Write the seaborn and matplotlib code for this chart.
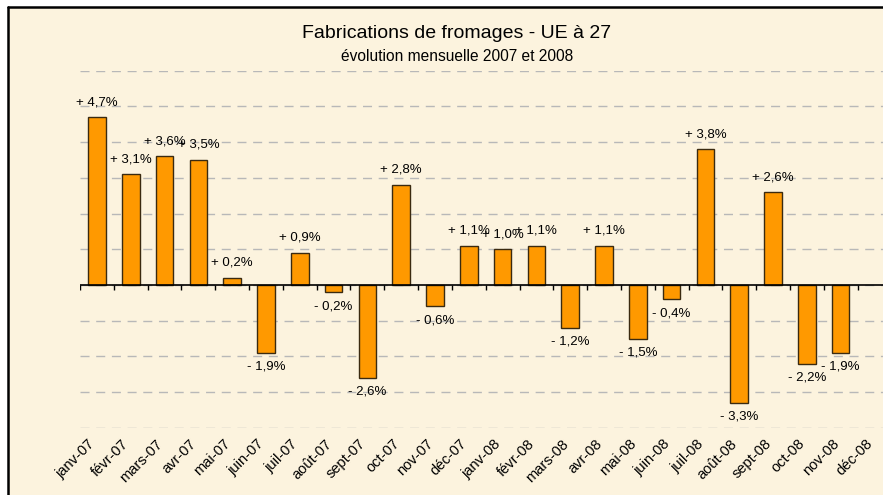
import numpy as np
import pandas as pd
import matplotlib
matplotlib.use("Agg")
import matplotlib.pyplot as plt
import matplotlib.transforms as mtransforms
from matplotlib.patches import Rectangle
from matplotlib.lines import Line2D
import seaborn as sns

months = ["janv-07", "févr-07", "mars-07", "avr-07", "mai-07", "juin-07",
          "juil-07", "août-07", "sept-07", "oct-07", "nov-07", "déc-07",
          "janv-08", "févr-08", "mars-08", "avr-08", "mai-08", "juin-08",
          "juil-08", "août-08", "sept-08", "oct-08", "nov-08", "déc-08"]
values = [4.7, 3.1, 3.6, 3.5, 0.2, -1.9, 0.9, -0.2, -2.6, 2.8, -0.6, 1.1,
          1.0, 1.1, -1.2, 1.1, -1.5, -0.4, 3.8, -3.3, 2.6, -2.2, -1.9, np.nan]
title = "Fabrications de fromages - UE à 27"
subtitle = "évolution mensuelle 2007 et 2008"

sns.set_theme(style="white")
plt.rcParams["font.family"] = ["Liberation Sans", "DejaVu Sans"]

W, H = 883, 495
fig = plt.figure(figsize=(W / 100, H / 100), dpi=100)
fig.patch.set_facecolor("white")

# chart area background (parchment) and frame (left + top)
bg = "#FCF3DE"
fig.patches.append(Rectangle((8 / W, 0), 1, 1 - 7 / H, transform=fig.transFigure,
                             facecolor=bg, edgecolor="none", zorder=-10))
fig.lines.append(Line2D([8 / W, 8 / W], [0, 1 - 7 / H], transform=fig.transFigure,
                        color="black", lw=1.8, zorder=-5))
fig.lines.append(Line2D([8 / W, 1], [1 - 7 / H, 1 - 7 / H], transform=fig.transFigure,
                        color="black", lw=1.8, zorder=-5))

left = 80 / W
right = 891.4 / W
top = 1 - 70.7 / H
bottom = 1 - 427.8 / H
ax = fig.add_axes([left, bottom, right - left, top - bottom])
ax.set_facecolor("none")

df = pd.DataFrame({"mois": months, "val": values})
sns.barplot(data=df, x="mois", y="val", order=months, color="#FF9900",
            saturation=1, edgecolor="#3A2A10", linewidth=1.0, width=0.52,
            ax=ax, zorder=3)

ax.set_xlim(-0.5, len(months) - 0.5)
ax.set_ylim(-4, 6)
ax.set_yticks(np.arange(-4, 7, 1))
ax.set_yticklabels([])
ax.tick_params(axis="y", length=0)
ax.yaxis.grid(True, color="#B8B8B8", linestyle=(0, (6.5, 4.8)), lw=1.0)
ax.set_axisbelow(True)
for s in ax.spines.values():
    s.set_visible(False)
ax.set_xlabel("")
ax.set_ylabel("")

# zero axis line and boundary ticks
ax.axhline(0, color="black", lw=1.2, zorder=4)
ax.vlines(np.arange(len(months) + 1) - 0.5, -0.14, 0, color="black", lw=1.0, zorder=4)

ax.set_xticks(range(len(months)))
ax.set_xticklabels(months, rotation=45, ha="right", va="center",
                   rotation_mode="anchor", fontsize=10.5, color="black")
ax.tick_params(axis="x", length=0, pad=10)
shift = mtransforms.ScaledTranslation(-4 / 100, 0, fig.dpi_scale_trans)
for lab in ax.get_xticklabels():
    lab.set_transform(lab.get_transform() + shift)

# data labels
for i, v in enumerate(values):
    if np.isnan(v):
        continue
    sign = "+" if v > 0 else "-"
    txt = f"{sign} {abs(v):.1f}%".replace(".", ",")
    off = 15 if v > 0 else -14
    ax.annotate(txt, (i, v), xytext=(0, off), textcoords="offset pixels",
                ha="center", va="center", fontsize=9.5, color="black", zorder=5)

fig.text(457 / W, 1 - 33 / H, title, ha="center", va="center", fontsize=14, color="black")
fig.text(457 / W, 1 - 56 / H, subtitle, ha="center", va="center", fontsize=11.2, color="black")

fig.savefig("out.png", dpi=100, facecolor=fig.get_facecolor())
